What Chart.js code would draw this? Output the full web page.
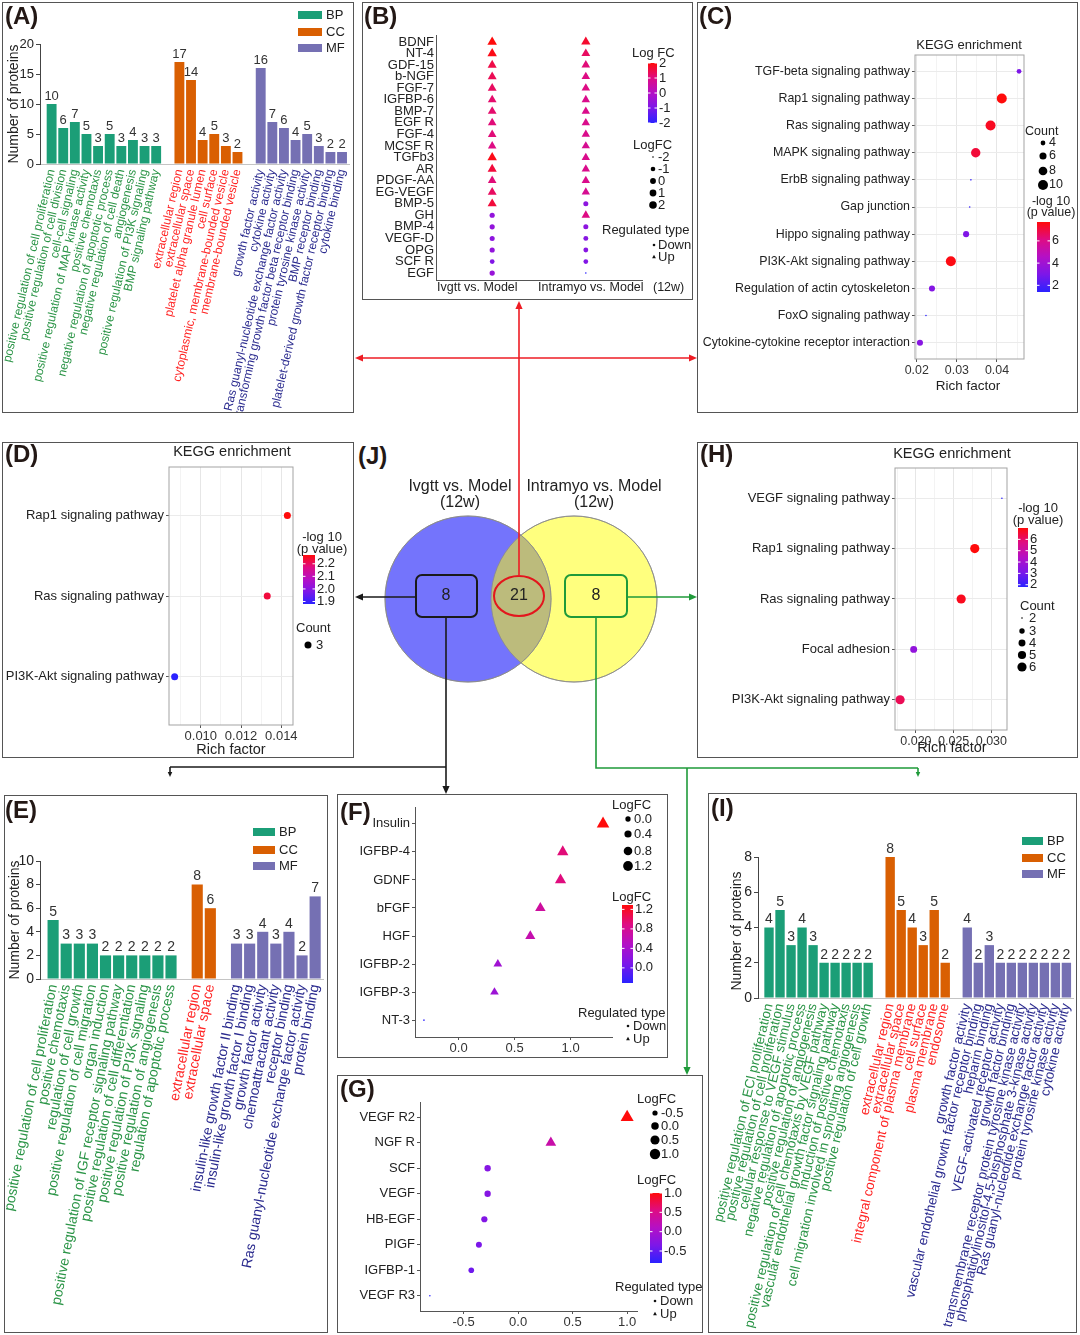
<!DOCTYPE html>
<html>
<head>
<meta charset="utf-8">
<title>Shared and specific growth factors, GO and KEGG</title>
<script src="https://cdn.jsdelivr.net/npm/chart.js@4.4.1/dist/chart.umd.min.js"></script>
<style>
  html, body { margin: 0; padding: 0; background: #fff; }
  #page { position: relative; width: 1080px; height: 1335px; overflow: hidden; background: #fff; }
  #page canvas { position: absolute; }
  .box { position: absolute; box-sizing: border-box; border: 1.5px solid #555; pointer-events: none; }
  .tag { position: absolute; font: bold 24px Arial, "Liberation Sans", sans-serif; color: #231815; line-height: 1; white-space: nowrap; }
  #links { position: absolute; left: 0; top: 0; pointer-events: none; }
</style>
</head>
<body>
<div id="page"></div>
<script>
// ---------- (A) GO of the 21 shared proteins ----------
const aBPTerms = ['positive regulation of cell proliferation', 'positive regulation of cell division', 'cell-cell signaling',
  'positive regulation of MAP kinase activity', 'positive chemotaxis', 'negative regulation of apoptotic process',
  'negative regulation of cell death', 'angiogenesis', 'positive regulation of PI3K signaling', 'BMP signaling pathway'];
const aBPCounts = [10, 6, 7, 5, 3, 5, 3, 4, 3, 3];
const aCCTerms = ['extracellular region', 'extracellular space', 'platelet alpha granule lumen', 'cell surface',
  'cytoplasmic, membrane-bounded vesicle', 'membrane-bounded vesicle'];
const aCCCounts = [17, 14, 4, 5, 3, 2];
const aMFTerms = ['growth factor activity', 'cytokine activity', 'Ras guanyl-nucleotide exchange factor activity',
  'transforming growth factor beta receptor binding', 'protein tyrosine kinase activity', 'BMP receptor binding',
  'platelet-derived growth factor receptor binding', 'cytokine binding'];
const aMFCounts = [16, 7, 6, 4, 5, 3, 2, 2];
const aYTicks = [0, 5, 10, 15, 20];

// ---------- (B) logFC of the shared proteins ----------
const bProteins = ['BDNF', 'NT-4', 'GDF-15', 'b-NGF', 'FGF-7', 'IGFBP-6', 'BMP-7', 'EGF R', 'FGF-4', 'MCSF R', 'TGFb3',
  'AR', 'PDGF-AA', 'EG-VEGF', 'BMP-5', 'GH', 'BMP-4', 'VEGF-D', 'OPG', 'SCF R', 'EGF'];
const bComparisons = ['Ivgtt vs. Model', 'Intramyo vs. Model'];
const bIvgttFC = [2.0, 1.9, 1.5, 1.4, 1.3, 1.2, 1.2, 1.1, 1.1, 1.0, 1.9, 1.6, 1.1, 1.3, 1.6, -0.6, -0.6, -0.7, -0.6, -0.9, -0.5];
const bIntramyoFC = [1.7, 1.3, 1.1, 1.0, 1.0, 0.9, 0.9, 0.9, 0.9, 0.8, 0.9, 0.9, 0.9, 0.8, -0.7, 1.0, -0.7, -0.8, -0.8, -0.9, -2.0];
const bColorTicks = [2, 1, 0, -1, -2];
const bSizeTicks = [-2, -1, 0, 1, 2];

// ---------- (C) KEGG, shared proteins ----------
const cPathways = ['TGF-beta signaling pathway', 'Rap1 signaling pathway', 'Ras signaling pathway', 'MAPK signaling pathway',
  'ErbB signaling pathway', 'Gap junction', 'Hippo signaling pathway', 'PI3K-Akt signaling pathway',
  'Regulation of actin cytoskeleton', 'FoxO signaling pathway', 'Cytokine-cytokine receptor interaction'];
const cRich = [0.0455, 0.0412, 0.0384, 0.0347, 0.0335, 0.0332, 0.0323, 0.0285, 0.0238, 0.0223, 0.0208];
const cCount = [4, 10, 10, 9, 3, 3, 5, 10, 5, 3, 5];
const cLogP = [3.0, 7.7, 7.4, 7.1, 1.6, 1.6, 3.1, 7.6, 3.2, 1.4, 3.3];
const cXTicks = [0.02, 0.03, 0.04];
const cSizeTicks = [4, 6, 8, 10];
const cColorTicks = [2, 4, 6];

// ---------- (D) KEGG, Ivgtt-only proteins ----------
const dPathways = ['Rap1 signaling pathway', 'Ras signaling pathway', 'PI3K-Akt signaling pathway'];
const dRich = [0.0143, 0.0133, 0.0087];
const dCount = [3, 3, 3];
const dLogP = [2.27, 2.23, 1.88];
const dXTicks = [0.010, 0.012, 0.014];
const dColorTicks = [1.9, 2.0, 2.1, 2.2];
const dSizeTicks = [3];

// ---------- (H) KEGG, Intramyo-only proteins ----------
const hPathways = ['VEGF signaling pathway', 'Rap1 signaling pathway', 'Ras signaling pathway', 'Focal adhesion', 'PI3K-Akt signaling pathway'];
const hRich = [0.0314, 0.0278, 0.0260, 0.0197, 0.0179];
const hCount = [2, 6, 6, 4, 6];
const hLogP = [1.8, 7.0, 6.8, 3.6, 6.2];
const hXTicks = [0.020, 0.025, 0.030];
const hColorTicks = [2, 3, 4, 5, 6];
const hSizeTicks = [2, 3, 4, 5, 6];

// ---------- (E) GO, Ivgtt-only proteins ----------
const eBPTerms = ['positive regulation of cell proliferation', 'positive chemotaxis', 'regulation of cell growth',
  'positive regulation of cell migration', 'organ induction', 'positive regulation of IGF receptor signaling pathway',
  'positive regulation of cell differentiation', 'positive regulation of PI3K signaling',
  'positive regulation of angiogenesis', 'regulation of apoptotic process'];
const eBPCounts = [5, 3, 3, 3, 2, 2, 2, 2, 2, 2];
const eCCTerms = ['extracellular region', 'extracellular space'];
const eCCCounts = [8, 6];
const eMFTerms = ['insulin-like growth factor II binding', 'insulin-like growth factor I binding', 'growth factor activity',
  'chemoattractant activity', 'receptor binding', 'Ras guanyl-nucleotide exchange factor activity', 'protein binding'];
const eMFCounts = [3, 3, 4, 3, 4, 2, 7];
const eYTicks = [0, 2, 4, 6, 8, 10];

// ---------- (F) logFC, Ivgtt-only proteins ----------
const fProteins = ['Insulin', 'IGFBP-4', 'GDNF', 'bFGF', 'HGF', 'IGFBP-2', 'IGFBP-3', 'NT-3'];
const fLogFC = [1.29, 0.93, 0.91, 0.73, 0.64, 0.35, 0.32, -0.31];
const fXTicks = [0.0, 0.5, 1.0];
const fSizeTicks = [0.0, 0.4, 0.8, 1.2];
const fColorTicks = [0.0, 0.4, 0.8, 1.2];

// ---------- (G) logFC, Intramyo-only proteins ----------
const gProteins = ['VEGF R2', 'NGF R', 'SCF', 'VEGF', 'HB-EGF', 'PIGF', 'IGFBP-1', 'VEGF R3'];
const gLogFC = [1.00, 0.30, -0.28, -0.28, -0.31, -0.36, -0.43, -0.81];
const gXTicks = [-0.5, 0.0, 0.5, 1.0];
const gSizeTicks = [-0.5, 0.0, 0.5, 1.0];
const gColorTicks = [-0.5, 0.0, 0.5, 1.0];

// ---------- (I) GO, Intramyo-only proteins ----------
const iBPTerms = ['positive regulation of ECl proliferation', 'positive regulation of cell proliferation',
  'cellular response to VEGF stimulus', 'negative regulation of apoptotic process', 'positive regulation of angiogenesis',
  'positive regulation of cell chemotaxis by VEGF pathway', 'vascular endothelial growth factor signaling pathway',
  'induction of positive chemotaxis', 'cell migration involved in sprouting angiogenesis', 'positive regulation of cell growth'];
const iBPCounts = [4, 5, 3, 4, 3, 2, 2, 2, 2, 2];
const iCCTerms = ['extracellular region', 'extracellular space', 'integral component of plasma membrane', 'cell surface',
  'plasma membrane', 'endosome'];
const iCCCounts = [8, 5, 4, 3, 5, 2];
const iMFTerms = ['growth factor activity', 'vascular endothelial growth factor receptor binding', 'heparin binding',
  'VEGF-activated receptor activity', 'growth factor binding', 'transmembrane receptor protein tyrosine kinase activity',
  'phosphatidylinositol-4,5-bisphosphate 3-kinase activity', 'Ras guanyl-nucleotide exchange factor activity',
  'protein tyrosine kinase activity', 'cytokine activity'];
const iMFCounts = [4, 2, 3, 2, 2, 2, 2, 2, 2, 2];
const iYTicks = [0, 2, 4, 6, 8];

// ---------- (J) Venn ----------
const vennSets = ['Ivgtt vs. Model', 'Intramyo vs. Model'];
const vennCounts = [8, 21, 8];          // Ivgtt only, shared, Intramyo only
const vennCentreX = [468, 574];
const vennCentreY = [599, 599];
const vennRadius = [83, 83];

// =====================================================================
const FONT = 'Arial, "Liberation Sans", Helvetica, sans-serif';
Chart.defaults.font.family = FONT;
Chart.defaults.color = '#222';
Chart.defaults.animation = false;
Chart.defaults.events = [];
Chart.defaults.plugins.legend.display = false;
Chart.defaults.plugins.tooltip.enabled = false;

const GO_FILL = ['#1b9e77', '#d95f02', '#7570b3'];
const GO_TEXT = ['#2a9446', '#ff2424', '#2a2a8e'];
const GRAD = ['#2b22ff', '#7c17e9', '#b410c6', '#de0c84', '#ff0b0b'];
const TRI = 1.45;

const page = document.getElementById('page');

function addCanvas(b) {
  const c = document.createElement('canvas');
  c.width = b.w;
  c.height = b.h;
  Object.assign(c.style, { left: b.x + 'px', top: b.y + 'px', width: b.w + 'px', height: b.h + 'px' });
  page.appendChild(c);
  return c;
}

function hexRgb(h) {
  const n = parseInt(h.slice(1), 16);
  return [n >> 16, (n >> 8) & 255, n & 255];
}

function gradColor(t) {
  t = Math.max(0, Math.min(1, t));
  const k = t * (GRAD.length - 1);
  const i = Math.min(Math.floor(k), GRAD.length - 2);
  const f = k - i;
  const p = hexRgb(GRAD[i]), q = hexRgb(GRAD[i + 1]);
  return 'rgb(' + p.map((v, j) => Math.round(v + (q[j] - v) * f)).join(',') + ')';
}

const scaleColor = (lo, hi) => v => gradColor((v - lo) / (hi - lo));
const sizer = (lo, hi, rmin, rmax) => v => rmin + Math.sqrt(Math.max(0, Math.min(1, (v - lo) / (hi - lo)))) * (rmax - rmin);
const expand = vals => {
  const lo = Math.min(...vals), hi = Math.max(...vals), d = (hi - lo) * 0.05;
  return [lo - d, hi + d];
};

function txt(ctx, s, x, y, o = {}) {
  ctx.save();
  ctx.font = (o.bold ? 'bold ' : '') + (o.size || 13) + 'px ' + FONT;
  ctx.fillStyle = o.color || '#222';
  ctx.textAlign = o.align || 'left';
  ctx.textBaseline = o.base || 'middle';
  ctx.translate(x, y);
  if (o.rot) ctx.rotate(o.rot);
  ctx.fillText(s, 0, 0);
  ctx.restore();
}

function colorBar(ctx, cb) {
  const g = ctx.createLinearGradient(0, cb.y + cb.h, 0, cb.y);
  GRAD.forEach((c, i) => g.addColorStop(i / (GRAD.length - 1), c));
  ctx.fillStyle = g;
  ctx.fillRect(cb.x, cb.y, cb.w, cb.h);
  cb.ticks.forEach(t => {
    const y = cb.y + cb.h - (t - cb.lo) / (cb.hi - cb.lo) * cb.h;
    ctx.strokeStyle = '#fff';
    ctx.lineWidth = 1;
    ctx.beginPath();
    ctx.moveTo(cb.x, y); ctx.lineTo(cb.x + 2.5, y);
    ctx.moveTo(cb.x + cb.w - 2.5, y); ctx.lineTo(cb.x + cb.w, y);
    ctx.stroke();
    txt(ctx, cb.fmt(t), cb.x + cb.w + 2, y, { size: cb.fs || 13 });
  });
}

function sizeKey(ctx, k) {
  k.vals.forEach((v, i) => {
    ctx.fillStyle = '#000';
    ctx.beginPath();
    ctx.arc(k.x, k.ys[i], k.r(v), 0, Math.PI * 2);
    ctx.fill();
    txt(ctx, k.fmt(v), k.lx, k.ys[i], { size: k.fs || 13 });
  });
}

function typeKey(ctx, x, yd, yu, lx, fs) {
  ctx.fillStyle = '#111';
  ctx.beginPath(); ctx.arc(x, yd, 1.3, 0, Math.PI * 2); ctx.fill();
  ctx.beginPath(); ctx.moveTo(x, yu - 2.2); ctx.lineTo(x + 1.9, yu + 1.2); ctx.lineTo(x - 1.9, yu + 1.2); ctx.closePath(); ctx.fill();
  txt(ctx, 'Down', lx, yd, { size: fs });
  txt(ctx, 'Up', lx, yu, { size: fs });
}

// ---------- GO bar chart ----------
function goChart(o) {
  const b = o.box, a = o.area;
  const slots = [];
  let s = 1;
  o.groups.forEach((g, gi) => {
    g.terms.forEach((t, i) => slots.push({ x: s++, label: t, g: gi, v: g.counts[i] }));
    s++;
  });
  const last = s - 2;
  const at = v => slots.find(q => Math.abs(q.x - v) < 1e-6);
  new Chart(addCanvas(b), {
    type: 'bar',
    data: {
      datasets: o.groups.map((g, gi) => ({
        label: g.name,
        data: slots.filter(q => q.g === gi).map(q => ({ x: q.x, y: q.v })),
        backgroundColor: g.fill, borderWidth: 0, grouped: false,
        barPercentage: 0.85, categoryPercentage: 1
      }))
    },
    options: {
      responsive: false,
      layout: { padding: { left: 0, top: a.t - b.y, right: b.x + b.w - a.r, bottom: 0 } },
      scales: {
        x: {
          type: 'linear', bounds: 'data', min: 0, max: last + 0.6, offset: false,
          afterBuildTicks: sc => { sc.ticks = slots.map(q => ({ value: q.x })); },
          afterFit: sc => { sc.height = b.y + b.h - a.b; sc.paddingLeft = 0; sc.paddingRight = 0; },
          ticks: {
            autoSkip: false, minRotation: o.rot, maxRotation: o.rot, padding: 4,
            font: { size: o.fs },
            color: k => { const q = k.tick && at(k.tick.value); return q ? o.groups[q.g].text : '#222'; },
            callback: v => { const q = at(v); return q ? q.label : ''; }
          },
          grid: { display: false, drawTicks: false },
          border: { color: '#c4c4c4' }
        },
        y: {
          type: 'linear', bounds: 'data', min: 0, max: o.yMax,
          afterBuildTicks: sc => { sc.ticks = o.yTicks.map(v => ({ value: v })); },
          afterFit: sc => { sc.width = a.l - b.x; sc.paddingTop = 0; sc.paddingBottom = 0; },
          ticks: { padding: 2, font: { size: o.yfs }, color: '#222' },
          grid: { drawOnChartArea: false, tickLength: 4, tickColor: '#444' },
          border: { color: '#444' }
        }
      }
    },
    plugins: [{
      id: 'goDeco',
      afterDatasetsDraw(chart) {
        const ctx = chart.ctx;
        chart.data.datasets.forEach((ds, i) => {
          chart.getDatasetMeta(i).data.forEach((el, j) => {
            txt(ctx, String(ds.data[j].y), el.x, el.y - 1, { size: o.nfs, align: 'center', base: 'bottom', color: '#333' });
          });
        });
        ctx.save();
        ctx.translate(-b.x, -b.y);
        txt(ctx, 'Number of proteins', o.ytitle.x, o.ytitle.y, { size: 14, align: 'center', rot: -Math.PI / 2 });
        o.groups.forEach((g, gi) => {
          ctx.fillStyle = g.fill;
          ctx.fillRect(o.key.x, o.key.ys[gi] - o.key.h / 2, o.key.w, o.key.h);
          txt(ctx, g.name, o.key.tx, o.key.ys[gi], { size: 13 });
        });
        ctx.restore();
      }
    }]
  });
}

// ---------- dot / triangle plot ----------
function dotPlot(o) {
  const b = o.box, a = o.area, n = o.cats.length, bw = o.theme === 'bw';
  const near = (v, list) => list.some(t => Math.abs(t - v) < 1e-9);
  const rad = p => o.size(p.s) * (p.tri ? TRI : 1);
  const xTL = o.xTickLen === undefined ? 3 : o.xTickLen;
  const yTL = o.yTickLen === undefined ? 3 : o.yTickLen;
  new Chart(addCanvas(b), {
    type: 'scatter',
    data: {
      datasets: o.series.map(pts => ({
        data: pts, clip: false,
        pointStyle: k => (k.raw && k.raw.tri ? 'triangle' : 'circle'),
        pointRadius: k => (k.raw ? rad(k.raw) : 0),
        pointBackgroundColor: k => (k.raw ? o.col(k.raw.v) : '#000'),
        pointBorderWidth: 0, borderWidth: 0
      }))
    },
    options: {
      responsive: false,
      layout: { autoPadding: false, padding: { left: 0, top: a.t - b.y, right: b.x + b.w - a.r, bottom: 0 } },
      scales: {
        x: {
          type: 'linear', bounds: 'data', min: o.xMin, max: o.xMax, offset: false,
          afterBuildTicks: sc => { sc.ticks = o.xGrid.map(v => ({ value: v })); },
          afterFit: sc => { sc.height = b.y + b.h - a.b; sc.paddingLeft = 0; sc.paddingRight = 0; },
          ticks: {
            autoSkip: false, minRotation: 0, maxRotation: 0, padding: o.xPad === undefined ? 1 : o.xPad,
            font: { size: o.xfs || o.fs }, color: '#333',
            callback: v => (near(v, o.xTicks) ? o.xLab(v) : '')
          },
          grid: {
            drawOnChartArea: bw, drawTicks: xTL > 0, tickLength: xTL, offset: false,
            color: k => (k.tick && near(k.tick.value, o.xTicks) ? '#e6e6e6' : '#f3f3f3'),
            tickColor: k => (k.tick && near(k.tick.value, o.xTicks) ? '#555' : 'rgba(0,0,0,0)')
          },
          border: { display: !bw, color: '#555' }
        },
        y: {
          type: 'linear', bounds: 'data', min: 0.4, max: n + 0.6,
          afterBuildTicks: sc => { sc.ticks = o.cats.map((_, i) => ({ value: n - i })); },
          afterFit: sc => { sc.width = a.l - b.x; sc.paddingTop = 0; sc.paddingBottom = 0; },
          ticks: { autoSkip: false, padding: 2, font: { size: o.fs }, color: '#222', callback: v => o.cats[n - Math.round(v)] },
          grid: { drawOnChartArea: bw, color: '#ebebeb', drawTicks: yTL > 0, tickLength: yTL, tickColor: '#555' },
          border: { display: !bw, color: '#555' }
        }
      }
    },
    plugins: [{
      id: 'frame',
      beforeDatasetsDraw(chart) {
        if (!bw) return;
        const { left, top, right, bottom } = chart.chartArea;
        const ctx = chart.ctx;
        ctx.save();
        ctx.strokeStyle = '#a3a3a3';
        ctx.lineWidth = 1;
        ctx.strokeRect(left, top, right - left, bottom - top);
        ctx.restore();
      }
    }, {
      id: 'deco',
      afterDraw(chart) {
        const ctx = chart.ctx;
        ctx.save();
        ctx.translate(-b.x, -b.y);
        o.deco(ctx);
        ctx.restore();
      }
    }]
  });
}

// ===================== panels =====================
// (A)
goChart({
  box: { x: 2, y: 2, w: 352, h: 411 }, area: { l: 40, t: 44, r: 349, b: 164 },
  groups: [
    { name: 'BP', terms: aBPTerms, counts: aBPCounts, fill: GO_FILL[0], text: GO_TEXT[0] },
    { name: 'CC', terms: aCCTerms, counts: aCCCounts, fill: GO_FILL[1], text: GO_TEXT[1] },
    { name: 'MF', terms: aMFTerms, counts: aMFCounts, fill: GO_FILL[2], text: GO_TEXT[2] }
  ],
  yMax: 20, yTicks: aYTicks, rot: 77, fs: 12, yfs: 13, nfs: 13,
  ytitle: { x: 14, y: 104 }, key: { x: 298, ys: [15, 32, 48], w: 24, h: 8, tx: 326 }
});

// (B)
const bAll = bIvgttFC.concat(bIntramyoFC);
const bLo = Math.min(...bAll), bHi = Math.max(...bAll);
const bSize = sizer(bLo, bHi, 0.8, 3.8);
dotPlot({
  box: { x: 362, y: 2, w: 331, h: 298 }, area: { l: 436, t: 35, r: 642, b: 280 },
  cats: bProteins, theme: 'classic', fs: 13, xTickLen: 0, yTickLen: 0, xPad: 0,
  series: [bIvgttFC, bIntramyoFC].map((fc, j) => fc.map((v, i) => ({ x: j + 1, y: bProteins.length - i, v, s: v, tri: v > 0 }))),
  xMin: 0.4, xMax: 2.6, xGrid: [1, 2], xTicks: [], xLab: () => '',
  col: scaleColor(bLo, bHi), size: bSize,
  deco: ctx => {
    txt(ctx, bComparisons[0], 437, 288, { size: 12.5 });
    txt(ctx, bComparisons[1], 538, 288, { size: 12.5 });
    txt(ctx, '(12w)', 653, 288, { size: 12.5 });
    txt(ctx, 'Log FC', 632, 53, { size: 13 });
    colorBar(ctx, { x: 648, y: 63, w: 9, h: 60, lo: bLo, hi: bHi, ticks: bColorTicks, fmt: String, fs: 13 });
    txt(ctx, 'LogFC', 633, 145, { size: 13 });
    sizeKey(ctx, { x: 653, ys: [157, 169, 181, 193, 205], vals: bSizeTicks, r: bSize, lx: 658, fmt: String, fs: 13 });
    txt(ctx, 'Regulated type', 602, 230, { size: 13 });
    typeKey(ctx, 654, 245, 257, 658, 13);
  }
});

// (C)
const cLo = Math.min(...cLogP), cHi = Math.max(...cLogP);
const cSize = sizer(3, 10, 0.8, 5);
const cX = expand(cRich);
dotPlot({
  box: { x: 697, y: 2, w: 381, h: 411 }, area: { l: 915, t: 55, r: 1024, b: 359 },
  cats: cPathways, theme: 'bw', fs: 12.4,
  series: [cPathways.map((p, i) => ({ x: cRich[i], y: cPathways.length - i, v: cLogP[i], s: cCount[i], tri: false }))],
  xMin: cX[0], xMax: cX[1], xGrid: [0.02, 0.025, 0.03, 0.035, 0.04, 0.045], xTicks: cXTicks, xLab: v => v.toFixed(2),
  col: scaleColor(cLo, cHi), size: cSize,
  deco: ctx => {
    txt(ctx, 'KEGG enrichment', 969, 45, { size: 13, align: 'center' });
    txt(ctx, 'Rich factor', 968, 386, { size: 13.5, align: 'center' });
    txt(ctx, 'Count', 1025, 132, { size: 12.5 });
    sizeKey(ctx, { x: 1043, ys: [143, 156, 171, 185], vals: cSizeTicks, r: cSize, lx: 1049, fmt: String, fs: 12.5 });
    txt(ctx, '-log 10', 1051, 202, { size: 12.5, align: 'center' });
    txt(ctx, '(p value)', 1051, 213, { size: 12.5, align: 'center' });
    colorBar(ctx, { x: 1037, y: 222, w: 13, h: 70, lo: cLo, hi: cHi, ticks: cColorTicks, fmt: String, fs: 12.5 });
  }
});

// (D)
const dLo = Math.min(...dLogP), dHi = Math.max(...dLogP);
const dX = expand(dRich);
dotPlot({
  box: { x: 2, y: 442, w: 352, h: 316 }, area: { l: 169, t: 467, r: 293, b: 725 },
  cats: dPathways, theme: 'bw', fs: 13,
  series: [dPathways.map((p, i) => ({ x: dRich[i], y: dPathways.length - i, v: dLogP[i], s: dCount[i], tri: false }))],
  xMin: dX[0], xMax: dX[1], xGrid: [0.009, 0.010, 0.011, 0.012, 0.013, 0.014], xTicks: dXTicks, xLab: v => v.toFixed(3),
  col: scaleColor(dLo, dHi), size: () => 3.5,
  deco: ctx => {
    txt(ctx, 'KEGG enrichment', 232, 452, { size: 14.5, align: 'center' });
    txt(ctx, 'Rich factor', 231, 750, { size: 14.5, align: 'center' });
    txt(ctx, '-log 10', 322, 537, { size: 13, align: 'center' });
    txt(ctx, '(p value)', 322, 549, { size: 13, align: 'center' });
    colorBar(ctx, { x: 303, y: 555, w: 12, h: 49, lo: dLo, hi: dHi, ticks: dColorTicks, fmt: v => v.toFixed(1), fs: 13 });
    txt(ctx, 'Count', 296, 628, { size: 13 });
    sizeKey(ctx, { x: 308, ys: [645], vals: dSizeTicks, r: () => 3.5, lx: 316, fmt: String, fs: 13 });
  }
});

// (H)
const hLo = Math.min(...hLogP), hHi = Math.max(...hLogP);
const hSize = sizer(2, 6, 0.8, 4.6);
const hX = expand(hRich);
dotPlot({
  box: { x: 697, y: 442, w: 381, h: 316 }, area: { l: 895, t: 468, r: 1007, b: 730 },
  cats: hPathways, theme: 'bw', fs: 13, xfs: 12.5,
  series: [hPathways.map((p, i) => ({ x: hRich[i], y: hPathways.length - i, v: hLogP[i], s: hCount[i], tri: false }))],
  xMin: hX[0], xMax: hX[1], xGrid: [0.0175, 0.020, 0.0225, 0.025, 0.0275, 0.030], xTicks: hXTicks, xLab: v => v.toFixed(3),
  col: scaleColor(hLo, hHi), size: hSize,
  deco: ctx => {
    txt(ctx, 'KEGG enrichment', 952, 454, { size: 14.5, align: 'center' });
    txt(ctx, 'Rich factor', 952, 748, { size: 14.5, align: 'center' });
    txt(ctx, '-log 10', 1038, 508, { size: 13, align: 'center' });
    txt(ctx, '(p value)', 1038, 520, { size: 13, align: 'center' });
    colorBar(ctx, { x: 1018, y: 528, w: 10, h: 59, lo: hLo, hi: hHi, ticks: hColorTicks, fmt: String, fs: 13 });
    txt(ctx, 'Count', 1020, 606, { size: 13 });
    sizeKey(ctx, { x: 1022, ys: [618, 631, 643, 655, 667], vals: hSizeTicks, r: hSize, lx: 1029, fmt: String, fs: 13 });
  }
});

// (E)
goChart({
  box: { x: 4, y: 795, w: 324, h: 538 }, area: { l: 40, t: 861, r: 323, b: 979 },
  groups: [
    { name: 'BP', terms: eBPTerms, counts: eBPCounts, fill: GO_FILL[0], text: GO_TEXT[0] },
    { name: 'CC', terms: eCCTerms, counts: eCCCounts, fill: GO_FILL[1], text: GO_TEXT[1] },
    { name: 'MF', terms: eMFTerms, counts: eMFCounts, fill: GO_FILL[2], text: GO_TEXT[2] }
  ],
  yMax: 10, yTicks: eYTicks, rot: 79, fs: 14, yfs: 14, nfs: 14,
  ytitle: { x: 15, y: 920 }, key: { x: 253, ys: [832, 850, 866], w: 22, h: 8, tx: 279 }
});

// (F)
const fLo = Math.min(...fLogFC), fHi = Math.max(...fLogFC);
const fSize = sizer(fLo, fHi, 0.8, 5.0);
const fX = expand(fLogFC);
dotPlot({
  box: { x: 337, y: 794, w: 331, h: 264 }, area: { l: 415, t: 807, r: 612, b: 1037 },
  cats: fProteins, theme: 'classic', fs: 13,
  series: [fLogFC.map((v, i) => ({ x: v, y: fProteins.length - i, v, s: v, tri: v > 0 }))],
  xMin: fX[0], xMax: fX[1], xGrid: fXTicks, xTicks: fXTicks, xLab: v => v.toFixed(1),
  col: scaleColor(fLo, fHi), size: fSize,
  deco: ctx => {
    txt(ctx, 'LogFC', 612, 805, { size: 13 });
    sizeKey(ctx, { x: 628, ys: [819, 834, 851, 866], vals: fSizeTicks, r: fSize, lx: 634, fmt: v => v.toFixed(1), fs: 13 });
    txt(ctx, 'LogFC', 612, 897, { size: 13 });
    colorBar(ctx, { x: 622, y: 905, w: 11, h: 78, lo: fLo, hi: fHi, ticks: fColorTicks, fmt: v => v.toFixed(1), fs: 13 });
    txt(ctx, 'Regulated type', 578, 1013, { size: 13 });
    typeKey(ctx, 628, 1026, 1039, 633, 13);
  }
});

// (G)
const gLo = Math.min(...gLogFC), gHi = Math.max(...gLogFC);
const gSize = sizer(gLo, gHi, 0.8, 5.2);
const gX = expand(gLogFC);
dotPlot({
  box: { x: 337, y: 1075, w: 366, h: 258 }, area: { l: 420, t: 1102, r: 637, b: 1311 },
  cats: gProteins, theme: 'classic', fs: 13,
  series: [gLogFC.map((v, i) => ({ x: v, y: gProteins.length - i, v, s: v, tri: v > 0 }))],
  xMin: gX[0], xMax: gX[1], xGrid: gXTicks, xTicks: gXTicks, xLab: v => v.toFixed(1),
  col: scaleColor(gLo, gHi), size: gSize,
  deco: ctx => {
    txt(ctx, 'LogFC', 637, 1099, { size: 13 });
    sizeKey(ctx, { x: 655, ys: [1113, 1126, 1140, 1154], vals: gSizeTicks, r: gSize, lx: 661, fmt: v => v.toFixed(1), fs: 13 });
    txt(ctx, 'LogFC', 637, 1180, { size: 13 });
    colorBar(ctx, { x: 650, y: 1193, w: 12, h: 70, lo: gLo, hi: gHi, ticks: gColorTicks, fmt: v => v.toFixed(1), fs: 13 });
    txt(ctx, 'Regulated type', 615, 1287, { size: 13 });
    typeKey(ctx, 655, 1301, 1314, 660, 13);
  }
});

// (I)
goChart({
  box: { x: 708, y: 793, w: 369, h: 540 }, area: { l: 758, t: 857, r: 1073, b: 998 },
  groups: [
    { name: 'BP', terms: iBPTerms, counts: iBPCounts, fill: GO_FILL[0], text: GO_TEXT[0] },
    { name: 'CC', terms: iCCTerms, counts: iCCCounts, fill: GO_FILL[1], text: GO_TEXT[1] },
    { name: 'MF', terms: iMFTerms, counts: iMFCounts, fill: GO_FILL[2], text: GO_TEXT[2] }
  ],
  yMax: 8, yTicks: iYTicks, rot: 77, fs: 13.5, yfs: 14, nfs: 14,
  ytitle: { x: 737, y: 931 }, key: { x: 1022, ys: [841, 858, 874], w: 21, h: 8, tx: 1047 }
});

// (J) Venn
const vb = { x: 356, y: 470, w: 340, h: 216 };
const VENN_FILL = ['#7474fc', '#ffff7e'];
new Chart(addCanvas(vb), {
  type: 'bubble',
  data: {
    datasets: vennCentreX.map((cx, i) => ({
      data: [{ x: cx, y: vennCentreY[i], r: vennRadius[i] }],
      backgroundColor: VENN_FILL[i], borderColor: '#8a8a8a', borderWidth: 0.8, clip: false
    }))
  },
  options: {
    responsive: false,
    layout: { autoPadding: false, padding: 0 },
    scales: {
      x: { type: 'linear', display: false, bounds: 'data', min: vb.x, max: vb.x + vb.w },
      y: { type: 'linear', display: false, bounds: 'data', min: vb.y, max: vb.y + vb.h, reverse: true }
    }
  },
  plugins: [{
    id: 'venn',
    afterDatasetsDraw(chart) {
      const ctx = chart.ctx, sx = chart.scales.x, sy = chart.scales.y;
      const c = vennCentreX.map((cx, i) => ({ x: sx.getPixelForValue(cx), y: sy.getPixelForValue(vennCentreY[i]), r: vennRadius[i] }));
      ctx.save();
      ctx.beginPath(); ctx.arc(c[0].x, c[0].y, c[0].r, 0, Math.PI * 2); ctx.clip();
      ctx.beginPath(); ctx.arc(c[1].x, c[1].y, c[1].r, 0, Math.PI * 2);
      ctx.fillStyle = '#bcbb7c'; ctx.fill();
      ctx.restore();
      ctx.save();
      ctx.strokeStyle = '#8a8a8a'; ctx.lineWidth = 0.8;
      c.forEach(p => { ctx.beginPath(); ctx.arc(p.x, p.y, p.r, 0, Math.PI * 2); ctx.stroke(); });
      ctx.translate(-vb.x, -vb.y);
      // set titles
      txt(ctx, vennSets[0], 460, 487, { size: 16, align: 'center' });
      txt(ctx, '(12w)', 460, 503, { size: 16, align: 'center' });
      txt(ctx, vennSets[1], 594, 487, { size: 16, align: 'center' });
      txt(ctx, '(12w)', 594, 503, { size: 16, align: 'center' });
      // region counts
      ctx.lineWidth = 2;
      ctx.strokeStyle = '#1a1a1a';
      ctx.beginPath(); ctx.roundRect(416, 575, 61, 42, 6); ctx.stroke();
      ctx.strokeStyle = '#e3161d';
      ctx.beginPath(); ctx.ellipse(519, 596, 25, 20, 0, 0, Math.PI * 2); ctx.stroke();
      ctx.strokeStyle = '#1f9a3a';
      ctx.beginPath(); ctx.roundRect(565, 575, 62, 42, 6); ctx.stroke();
      txt(ctx, String(vennCounts[0]), 446, 596, { size: 16, align: 'center' });
      txt(ctx, String(vennCounts[1]), 519, 596, { size: 16, align: 'center' });
      txt(ctx, String(vennCounts[2]), 596, 596, { size: 16, align: 'center' });
      ctx.restore();
    }
  }]
});

// ---------- panel frames and letters ----------
[[2, 2, 352, 411], [362, 2, 331, 298], [697, 2, 381, 411], [2, 442, 352, 316], [697, 442, 381, 316],
 [4, 795, 324, 538], [337, 794, 331, 264], [337, 1075, 366, 258], [708, 793, 369, 540]].forEach(r => {
  const d = document.createElement('div');
  d.className = 'box';
  Object.assign(d.style, { left: r[0] + 'px', top: r[1] + 'px', width: r[2] + 'px', height: r[3] + 'px' });
  page.appendChild(d);
});
[['(A)', 5, 4], ['(B)', 364, 4], ['(C)', 699, 4], ['(D)', 5, 442], ['(H)', 700, 442], ['(J)', 358, 444],
 ['(E)', 5, 798], ['(F)', 340, 800], ['(G)', 340, 1077], ['(I)', 711, 796]].forEach(t => {
  const d = document.createElement('div');
  d.className = 'tag';
  d.textContent = t[0];
  Object.assign(d.style, { left: t[1] + 'px', top: t[2] + 'px' });
  page.appendChild(d);
});

// ---------- connectors ----------
const NS = 'http://www.w3.org/2000/svg';
const svg = document.createElementNS(NS, 'svg');
svg.setAttribute('id', 'links');
svg.setAttribute('width', 1080);
svg.setAttribute('height', 1335);
page.appendChild(svg);
function seg(pts, col) {
  const p = document.createElementNS(NS, 'polyline');
  p.setAttribute('points', pts.map(q => q.join(',')).join(' '));
  p.setAttribute('fill', 'none');
  p.setAttribute('stroke', col);
  p.setAttribute('stroke-width', 1.6);
  svg.appendChild(p);
}
function head(x, y, dir, col, s = 8) {
  const w = s * 0.45;
  const pts = {
    up: [[x, y], [x - w, y + s], [x + w, y + s]],
    down: [[x, y], [x - w, y - s], [x + w, y - s]],
    left: [[x, y], [x + s, y - w], [x + s, y + w]],
    right: [[x, y], [x - s, y - w], [x - s, y + w]]
  }[dir];
  const p = document.createElementNS(NS, 'polygon');
  p.setAttribute('points', pts.map(q => q.join(',')).join(' '));
  p.setAttribute('fill', col);
  svg.appendChild(p);
}
const RED = '#ee1c24', GRN = '#1f9a3a', BLK = '#1a1a1a';
seg([[519, 576], [519, 306]], RED); head(519, 301, 'up', RED);
seg([[361, 358], [691, 358]], RED); head(355, 358, 'left', RED); head(697, 358, 'right', RED);
seg([[416, 597], [361, 597]], BLK); head(355, 597, 'left', BLK);
seg([[446, 617], [446, 787]], BLK); head(446, 794, 'down', BLK);
seg([[170, 767], [446, 767]], BLK); seg([[170, 767], [170, 772]], BLK); head(170, 777, 'down', BLK, 5);
seg([[627, 597], [691, 597]], GRN); head(697, 597, 'right', GRN);
seg([[596, 617], [596, 768], [918, 768]], GRN); seg([[918, 768], [918, 772]], GRN); head(918, 777, 'down', GRN, 5);
seg([[687, 768], [687, 1068]], GRN); head(687, 1075, 'down', GRN);
</script>
</body>
</html>
